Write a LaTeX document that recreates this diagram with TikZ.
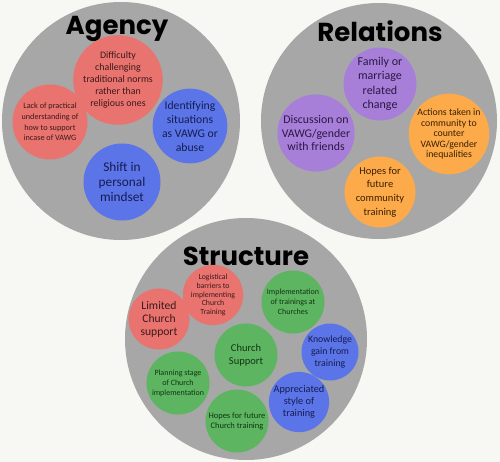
\documentclass[tikz,border=0pt]{standalone}
\usepackage{fontspec}
\setmainfont{Carlito}
\newfontfamily\titlefont{Poppins}

\definecolor{paper}{HTML}{F7F8F3}
\definecolor{disc}{HTML}{A7A7A7}
\definecolor{redfill}{HTML}{E9736F}
\definecolor{bluefill}{HTML}{5B75E9}
\definecolor{purplefill}{HTML}{A77FD8}
\definecolor{orangefill}{HTML}{FDAA4B}
\definecolor{greenfill}{HTML}{5DB562}
\definecolor{redtext}{HTML}{3B1A1A}
\definecolor{bluetext}{HTML}{151C50}
\definecolor{purpletext}{HTML}{2B1745}
\definecolor{orangetext}{HTML}{3A2100}
\definecolor{greentext}{HTML}{123512}

\begin{document}
\begin{tikzpicture}[
        % Define styles
        x=1pt, y=-1pt,
        group/.style={circle, fill=disc, inner sep=0pt, minimum size=#1},
        heading/.style={anchor=base, inner sep=0pt, text=black,
            font=\titlefont\bfseries\fontsize{26}{30}\selectfont},
        theme/.style={circle, inner sep=0pt, align=center, minimum size=#1},
        redtheme/.style={theme=#1, fill=redfill, text=redtext},
        bluetheme/.style={theme=#1, fill=bluefill, text=bluetext},
        purpletheme/.style={theme=#1, fill=purplefill, text=purpletext},
        orangetheme/.style={theme=#1, fill=orangefill, text=orangetext},
        greentheme/.style={theme=#1, fill=greenfill, text=greentext},
        fs/.style args={#1/#2}{font=\fontsize{#1}{#2}\selectfont}
    ]

        % --- Background ---
        \fill[paper] (0,0) rectangle (500,462);

        % --- Groups ---
        \node[group=238pt] (agency) at (121,121) {};
        \node[group=236pt] (relations) at (379,121) {};
        \node[group=242pt] (structure) at (246,339) {};

        \node[heading] (agency_title) at (117,35) {Agency};
        \node[heading] (relations_title) at (380,42) {Relations};
        \node[heading] (structure_title) at (246,265) {Structure};

        % --- Agency themes ---
        \node[redtheme=75pt, fs=9.9/12] (difficulty) at (118,80)
            {Difficulty\\challenging\\traditional norms\\rather than\\religious ones};
        \node[redtheme=75pt, fs=8.2/10.7] (practical) at (50,122)
            {Lack of practical\\understanding of\\how to support\\incase of VAWG};
        \node[bluetheme=73pt, fs=11.7/14] (identifying) at (190,126)
            {Identifying\\situations\\as VAWG or\\abuse};
        \node[bluetheme=77pt, fs=13.3/15] (mindset) at (122,182)
            {Shift in\\personal\\mindset};

        % --- Relations themes ---
        \node[purpletheme=73pt, fs=12/14.3] (family) at (380,84)
            {Family or\\marriage\\related\\change};
        \node[purpletheme=75pt, fs=11.8/13.7] (discussion) at (316,133)
            {Discussion on\\VAWG/gender\\with friends};
        \node[orangetheme=73pt, fs=9.8/10.4] (actions) at (449,134)
            {Actions taken in\\community to\\counter\\VAWG/gender\\inequalities};
        \node[orangetheme=71pt, fs=10.5/13.7] (community) at (380,192)
            {Hopes for\\future\\community\\training};

        % --- Structure themes ---
        \node[redtheme=57pt, fs=7.8/8.6] (logistical) at (213,295)
            {Logistical\\barriers to\\implementing\\Church\\Training};
        \node[redtheme=61pt, fs=11.6/13] (limited) at (159,319)
            {Limited\\Church\\support};
        \node[greentheme=63pt, fs=8/10] (implementation) at (293,302)
            {Implementation\\of trainings at\\Churches};
        \node[greentheme=63pt, fs=10.5/12.5] (support) at (246,355)
            {Church\\Support};
        \node[bluetheme=57pt, fs=9.8/11.7] (knowledge) at (330,352)
            {Knowledge\\gain from\\training};
        \node[greentheme=63pt, fs=8/10] (planning) at (178,383)
            {Planning stage\\of Church\\implementation};
        \node[bluetheme=57pt, fs=10.3/11.7] (appreciated) at (299,402)
            {Appreciated\\style of\\training};
        \node[greentheme=63pt, fs=8.5/10] (churchtraining) at (237,421)
            {Hopes for future\\Church training};

    \end{tikzpicture}
\end{document}
